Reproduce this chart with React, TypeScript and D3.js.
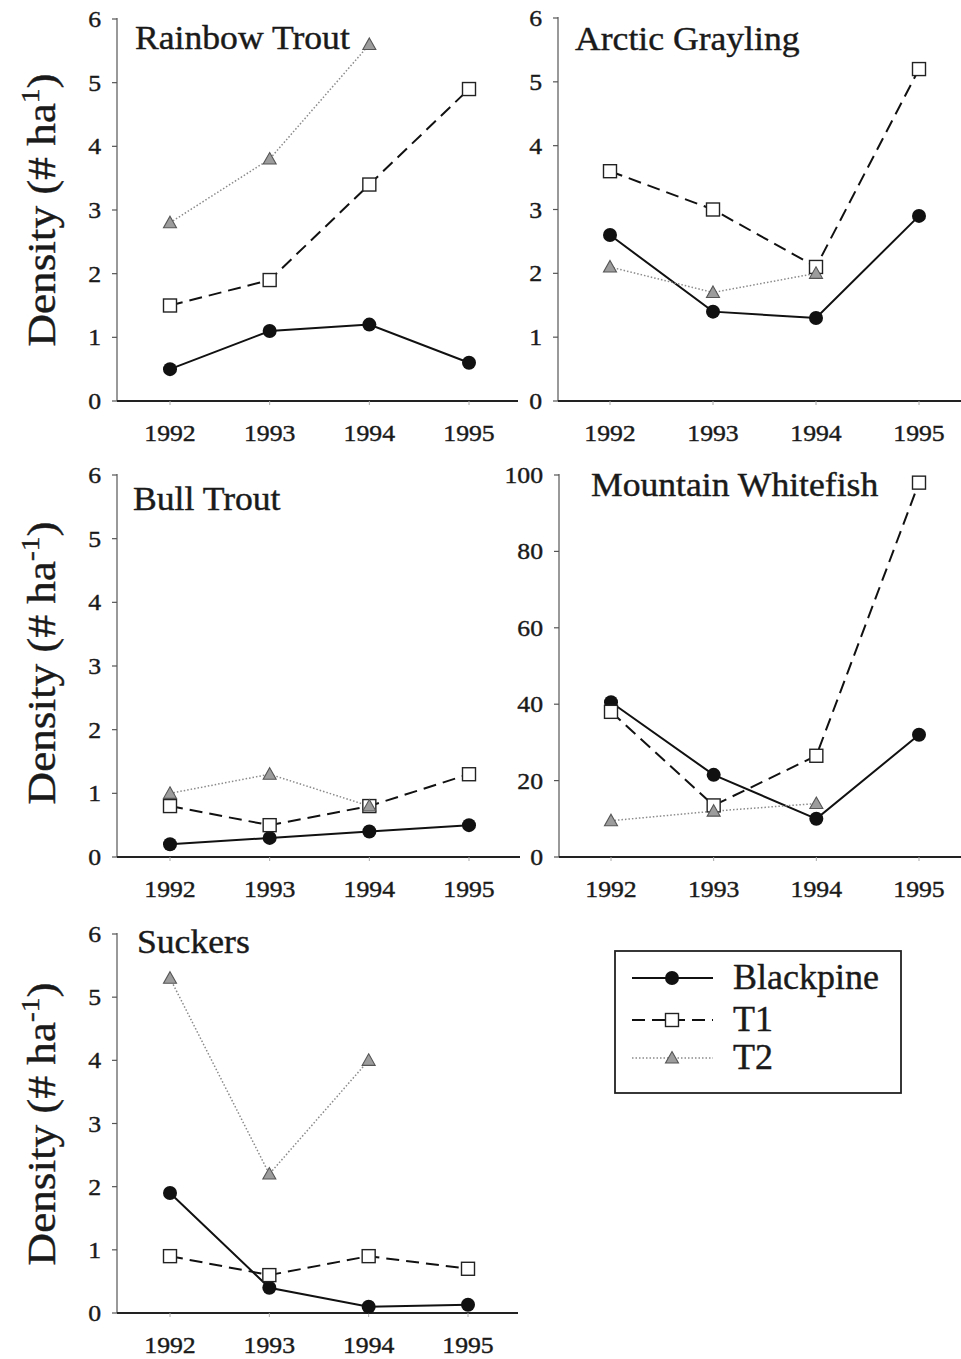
import React from "react";
import * as d3 from "d3";

// Survey years shared by every panel
const years = [1992, 1993, 1994, 1995];

// Site labels
const sites = ["Blackpine", "T1", "T2"];

// Fish density (# per ha) by species and site; null = not sampled
const rainbowBlackpine = [0.5, 1.1, 1.2, 0.6];
const rainbowT1 = [1.5, 1.9, 3.4, 4.9];
const rainbowT2 = [2.8, 3.8, 5.6, null];

const graylingBlackpine = [2.6, 1.4, 1.3, 2.9];
const graylingT1 = [3.6, 3.0, 2.1, 5.2];
const graylingT2 = [2.1, 1.7, 2.0, null];

const bullBlackpine = [0.2, 0.3, 0.4, 0.5];
const bullT1 = [0.8, 0.5, 0.8, 1.3];
const bullT2 = [1.0, 1.3, 0.8, null];

const whitefishBlackpine = [40.5, 21.5, 10, 32];
const whitefishT1 = [38, 13.5, 26.5, 98];
const whitefishT2 = [9.5, 12, 14, null];

const suckersBlackpine = [1.9, 0.4, 0.1, 0.13];
const suckersT1 = [0.9, 0.6, 0.9, 0.7];
const suckersT2 = [5.3, 2.2, 4.0, null];

// Y tick values
const densityTicks = [0, 1, 2, 3, 4, 5, 6];
const whitefishTicks = [0, 20, 40, 60, 80, 100];

const FONT = "'Liberation Serif', 'Times New Roman', serif";
const INK = "#1a1a1a";

type Layout = {
  title: string;
  axisX: number;
  xStart: number;
  xEnd: number;
  axisEnd: number;
  yTop: number;
  yBottom: number;
  yMax: number;
  ticks: number[];
  titleX: number;
  titleY: number;
  series: (number | null)[][];
};

const panels: Layout[] = [
  { title: "Rainbow Trout", axisX: 117, xStart: 170, xEnd: 469, axisEnd: 518, yTop: 19, yBottom: 401, yMax: 6, ticks: densityTicks, titleX: 135, titleY: 49, series: [rainbowBlackpine, rainbowT1, rainbowT2] },
  { title: "Arctic Grayling", axisX: 558, xStart: 610, xEnd: 919, axisEnd: 961, yTop: 18, yBottom: 401, yMax: 6, ticks: densityTicks, titleX: 575, titleY: 50, series: [graylingBlackpine, graylingT1, graylingT2] },
  { title: "Bull Trout", axisX: 117, xStart: 170, xEnd: 469, axisEnd: 520, yTop: 475, yBottom: 857, yMax: 6, ticks: densityTicks, titleX: 133, titleY: 510, series: [bullBlackpine, bullT1, bullT2] },
  { title: "Mountain Whitefish", axisX: 559, xStart: 611, xEnd: 919, axisEnd: 961, yTop: 475, yBottom: 857, yMax: 100, ticks: whitefishTicks, titleX: 591, titleY: 496, series: [whitefishBlackpine, whitefishT1, whitefishT2] },
  { title: "Suckers", axisX: 117, xStart: 170, xEnd: 468, axisEnd: 518, yTop: 934, yBottom: 1313, yMax: 6, ticks: densityTicks, titleX: 137, titleY: 953, series: [suckersBlackpine, suckersT1, suckersT2] },
];

// Y-axis label centres for each row; first one has no minus sign
const yLabels = [
  { cx: 55, cy: 210, sup: "1" },
  { cx: 55, cy: 663, sup: "-1" },
  { cx: 55, cy: 1124, sup: "-1" },
];

const lineStyles = [
  { stroke: "#111", width: 2, dash: "none" },
  { stroke: "#111", width: 2, dash: "13 7" },
  { stroke: "#8a8a8a", width: 1.5, dash: "1.5 2" },
];

function Marker({ kind, x, y }: { kind: number; x: number; y: number }) {
  if (kind === 0) return <circle cx={x} cy={y} r={7} fill="#111" />;
  if (kind === 1)
    return <rect x={x - 6.5} y={y - 6.5} width={13} height={13} fill="#fff" stroke="#222" strokeWidth={1.4} />;
  return (
    <path
      d={`M${x},${y - 6.5}L${x + 6.5},${y + 5}L${x - 6.5},${y + 5}Z`}
      fill="#9c9c9c"
      stroke="#555"
      strokeWidth={1.1}
    />
  );
}

function Panel({ p }: { p: Layout }) {
  const x = d3.scaleLinear().domain([years[0], years[years.length - 1]]).range([p.xStart, p.xEnd]);
  const y = d3.scaleLinear().domain([0, p.yMax]).range([p.yBottom, p.yTop]);
  const line = d3
    .line<{ yr: number; v: number | null }>()
    .defined((d) => d.v !== null)
    .x((d) => x(d.yr))
    .y((d) => y(d.v as number));

  return (
    <g>
      {/* axes */}
      <line x1={p.axisX} x2={p.axisX} y1={p.yTop - 1} y2={p.yBottom} stroke="#555" strokeWidth={1.2} />
      <line x1={p.axisX} x2={p.axisEnd} y1={p.yBottom} y2={p.yBottom} stroke="#222" strokeWidth={2} />
      {p.ticks.map((t) => (
        <g key={t}>
          <line x1={p.axisX - 5} x2={p.axisX} y1={y(t)} y2={y(t)} stroke="#555" strokeWidth={1.2} />
          <text
            transform={`translate(${p.axisX - 16},${y(t) + 8}) scale(1.12,1)`}
            textAnchor="end"
            fontFamily={FONT}
            fontSize={23}
            fill={INK}
            stroke={INK}
            strokeWidth={0.4}
          >
            {t}
          </text>
        </g>
      ))}
      {years.map((yr) => (
        <g key={yr}>
          <line x1={x(yr)} x2={x(yr)} y1={p.yBottom} y2={p.yBottom + 4} stroke="#aaa" strokeWidth={1} />
          <text
            transform={`translate(${x(yr)},${p.yBottom + 40}) scale(1.12,1)`}
            textAnchor="middle"
            fontFamily={FONT}
            fontSize={23}
            fill={INK}
            stroke={INK}
            strokeWidth={0.4}
          >
            {yr}
          </text>
        </g>
      ))}
      <text
        transform={`translate(${p.titleX},${p.titleY}) scale(1.08,1)`}
        fontFamily={FONT}
        fontSize={33}
        fill={INK}
        stroke={INK}
        strokeWidth={0.4}
      >
        {p.title}
      </text>
      {/* series lines then markers */}
      {p.series.map((vals, i) => {
        const pts = years.map((yr, j) => ({ yr, v: vals[j] }));
        const st = lineStyles[i];
        return (
          <path
            key={"l" + i}
            d={line(pts) || ""}
            fill="none"
            stroke={st.stroke}
            strokeWidth={st.width}
            strokeDasharray={st.dash}
          />
        );
      })}
      {p.series.map((vals, i) =>
        years.map((yr, j) =>
          vals[j] === null ? null : <Marker key={`m${i}-${j}`} kind={i} x={x(yr)} y={y(vals[j] as number)} />
        )
      )}
    </g>
  );
}

function Legend() {
  const rows = [978, 1020, 1058];
  return (
    <g>
      <rect x={615} y={951} width={286} height={142} fill="#fff" stroke="#222" strokeWidth={1.8} />
      {sites.map((s, i) => {
        const st = lineStyles[i];
        return (
          <g key={s}>
            <line
              x1={632}
              x2={713}
              y1={rows[i]}
              y2={rows[i]}
              stroke={st.stroke}
              strokeWidth={st.width}
              strokeDasharray={st.dash}
            />
            <Marker kind={i} x={672} y={rows[i]} />
            <text
              x={733}
              y={rows[i] + 11}
              fontFamily={FONT}
              fontSize={36}
              fill={INK}
              stroke={INK}
              strokeWidth={0.4}
            >
              {s}
            </text>
          </g>
        );
      })}
    </g>
  );
}

export default function App() {
  return (
    <svg
      width={961}
      height={1359}
      viewBox="0 0 961 1359"
      style={{ position: "absolute", left: 0, top: 0, background: "#fff" }}
    >
      <rect width={961} height={1359} fill="#fff" />
      {panels.map((p) => (
        <Panel key={p.title} p={p} />
      ))}
      {yLabels.map((l, i) => (
        <text
          key={i}
          transform={`translate(${l.cx},${l.cy}) rotate(-90) scale(1.13,1)`}
          textAnchor="middle"
          fontFamily={FONT}
          fontSize={40}
          fill={INK}
          stroke={INK}
          strokeWidth={0.4}
        >
          Density (# ha
          <tspan fontSize={26} dy={-16}>
            {l.sup}
          </tspan>
          <tspan dy={16}>)</tspan>
        </text>
      ))}
      <Legend />
    </svg>
  );
}
